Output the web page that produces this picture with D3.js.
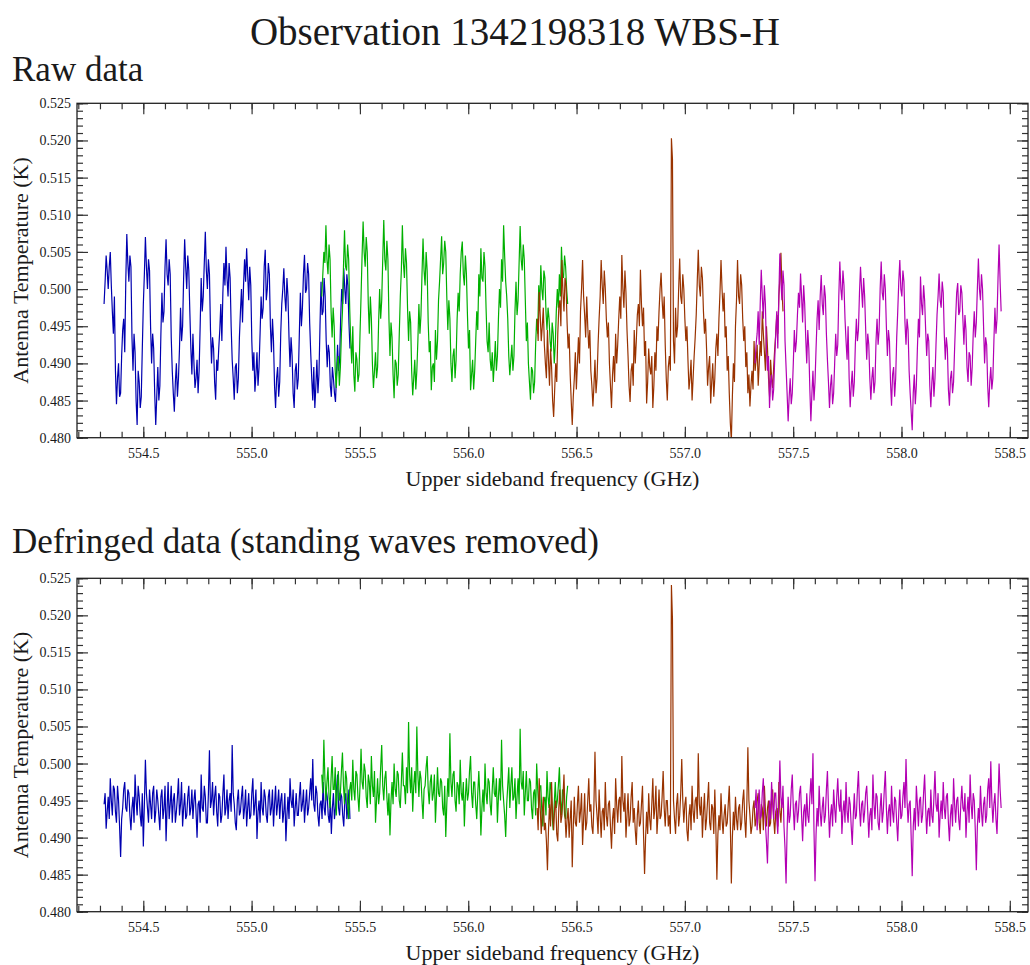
<!DOCTYPE html>
<html>
<head>
<meta charset="utf-8">
<style>
  body { margin: 0; background: #fff; }
  svg text { font-family: "Liberation Serif", Tinos, "Nimbus Roman", "Nimbus Roman No9 L", FreeSerif, "Times New Roman", Times, "DejaVu Serif", serif; fill: #1a1a1a; }
  .tick line { stroke: #333; stroke-width: 1.2; }
</style>
</head>
<body>
<script src="https://cdn.jsdelivr.net/npm/d3@7"></script>
<script>
// WBS-H subbands, drawn in this order (later ones end up on top)
const bandColors = ['#0000b0', '#00b000', '#993300', '#b300b3'];
const bandStart = [554.319, 555.324, 556.318, 557.324]; // GHz
const bandEnd   = [555.454, 556.459, 557.453, 558.460];

// antenna temperature in mK, channels evenly spaced across each subband
const rawBlue = [498,501,504.5,502.5,500,503,505,500.5,497,494,499,489,484.5,488,490,485.5,486,491,494.5,496,
  491.5,501,507.4,503.5,501,504.5,503,493.5,489,494,491.5,485,481.7,489,487.5,484,485.5,492,498,502,
  507,503,500,504,502.5,495,490,494,492,486,481.7,485.5,489.5,485,487,494,499.5,495.5,497,503,
  506.7,502,500.5,504,502,493.5,489,486,483.5,487.5,490,485.5,488,492,497.5,493,495,501.5,506.7,503,
  500,504.5,502.5,497,492,488.5,494,490,486.7,488,490.5,486,489,495,501.5,497,499,503.5,507.7,502.5,
  500,504,502,494.5,490,493.5,492,487.5,485.1,490.5,489,492,494.5,498,493,499.5,503.5,500.5,505.7,501.5,
  499,503.5,501.5,495,490.5,488,485.1,489.5,490,486,488,493.5,497,500,495.5,500.5,504,501,505.5,502,
  498.5,503,500.5,493,489,491.5,486.2,488.5,491.5,487,489.5,494,499,496,497.5,503,505.3,498.5,500,503.5,
  502,495,491.5,496,493,487,484,488,489.5,485.5,487.5,494,498,500,502.8,499,497,501.5,499,493.5,
  489.5,493.5,491,486,484,489,490,486.5,488,494,499.5,495,497.5,502,504.6,499.5,500,503.5,502,495.5,
  491.5,488,485,489.5,484,487,490.5,486,488.5,495,501,496.5,497,501.5,499,493,489.5,492.5,491.5,487,
  485.5,489.5,488,486,484.8,488.5,492.5,489,490.5,496,500,498,502.8,500,498,502,500.5,495.5,492];
const rawGreen = [499,502,505,503.5,508.6,504,502,506,504,497,493.5,497.5,495,489,486.7,490,491,487,489.5,494,
  497,503,507.9,503,502.5,506,504,497.5,493,490,495,488.5,486.2,491.5,490.5,487.5,488.5,494,499,504.5,
  509.1,505,503,507,505,498,494,499,496,490,486.7,489,491.5,488,489.5,495.5,500,496,498.5,504,
  509.3,504,502.5,506.5,504,496,491,495.5,493.5,488.5,485.3,490.5,490,487,488.5,494,499,502.5,508.6,503.5,
  501.5,505.5,503.5,497.5,493,497,495.5,489,485.7,488,490.5,486.5,489,493,498,494,496.5,502,506.8,502.5,
  500.5,505,502.5,495.5,491.5,493,486.4,489.5,490,487.5,494.5,490.5,493,498.5,501,504,507.1,502,503.5,506.5,
  505,499,494.5,498.5,496,490,487.5,491,492,488,490.5,496,499.5,497,502,505,506.4,502,500.5,504.5,
  502,496.5,492,494.5,486.4,488.5,490.5,486.5,489,493,497,494.5,502,499,505.5,501.5,501,505,503,497.5,
  493,491.5,495.5,490.5,489,491.5,487.5,490,493,489,491,496,500,497.5,504,501,508.6,504.5,501,499,
  496,491,488.4,490.5,492.5,489,491,497,501,496.5,498.5,503.5,508.5,504,502.5,506,504,498.5,493,495.5,
  490,487.5,485.1,489.5,489,486,487.5,492.5,496,494,500.5,497.5,503.2,500,498.5,502.5,501.5,497,494.5,497.5,
  496,493,491.6,495.5,494,490,492.5,497,500,497.5,502,499,505.7,502,501.5,504.5,503,500,498];
const rawBrown = [496,493,499.6,496.5,493,495,497.5,492.5,490,488,494.5,490.5,487,492,489.5,485,482.8,486.5,490,487.5,
  494,497.5,498.5,495,503.9,499.5,497,501.5,500.5,495.5,492,494,488.5,485,481.7,485.5,488,491.5,486.5,490,
  493.5,490,497,500,503.9,499,496.5,493.5,499,495,492,494.5,489,487,484.2,487,490.5,486,488,492.5,
  496,499,503.9,500.5,498,502.5,500,496,493.5,495.5,490,487,484,488.5,491,487.5,494,490,492.5,496,
  499,496,504.6,500,497.5,502.5,499.5,494.5,491,487,484.8,489,490,487,494.5,490,493,496.5,498,495,
  502.6,498,495,497.5,491,493,484.6,487.5,492,489.5,488.5,491,484,487,491.5,489,495,493,497,500,
  502.2,498.5,496,499,492.5,488,485,489.5,491,489,520.3,517.5,493,490,497.5,493.5,495,500,504.1,499,
  498,502,500,496,493,495,490.5,486.5,488,490.5,485,488,491,493.5,496.5,501,505.3,500.5,499,503,
  501.5,497,494,496,492,487,489.5,491,484.6,487.5,490,485.5,488,492,494,491,496,499.5,503.9,500,
  497,499.5,493.5,495,489,491,486,482,479.6,485.5,490,487.5,495,498.5,503.9,499,498,502,500.5,496,
  493,495,489.5,491.5,486,488.5,484.2,487,489,486.5,493,489,490.5,492.5,487,490,493,491,497,494,
  491.5,489,495,492,488,485.5,490.5,488,486.7,489.5,492,494,496.5,494,499,501.5,504.9,500,497];
const rawMagenta = [490,492.5,494,497,492.5,498,502.6,499,496,500.5,498,492,489,491,484,487.5,488.5,485,486.5,490.5,
  494,497,492,499,504.8,501,498.5,502.5,500.5,493,489.5,486,482.2,485.5,488,484.5,486,490,494.5,491.5,
  493,496.5,499.5,497.5,502.1,499,495.5,500.5,498,493.5,490,494.5,492,486.5,482.2,486,489,485,487.5,492,
  496,498.5,494.5,499,501.9,498,496.5,500.5,499,494,490.5,487.5,484,487,488.5,484.5,486,490,494,491,
  492.5,499,503.7,500,498.5,502.5,500.5,496,493,490.5,495,488,484.1,487,489,485.5,487.5,492.5,496,493,
  494.5,499.5,503,500,497.5,501.5,499,494.5,490.5,494,492.5,488,485.1,488,489.5,486,487.5,493,496,492.5,
  494.5,500,503.7,499.5,498.5,502,500,495,491,494.5,493,487.5,484.3,488.5,489.5,485.5,488,493.5,497,501,
  503.9,500,499,502.5,501,495.5,492.5,496,494.5,489,486,483.5,481,486,488.5,484.5,487,492,496,493.5,
  501.7,498,496.5,500.5,498.5,494.5,491,494,493,487,484.1,487.5,489.5,485.5,488,492.5,496.5,499,502.1,498.5,
  497.5,501,499.5,494,490.5,493.5,492,486.5,484.3,488,489,486,487.5,492,496,499.5,500.8,496.5,497,500.5,
  499.5,496,492.5,496.5,494.5,489.5,487.5,491.5,491,487,489.5,494,497,493.5,495.5,500,504.1,500,498.5,502,
  500,495,490,493.5,492.5,487,484.1,487.5,489.5,486.5,488,493,497.5,494,496,501.5,506,501,497];

const defBlue = [494.5,496,491.2,493.5,495.5,492.5,498,495,493,497,496.5,493.5,492,497,495,491.5,487.4,492.5,494,496.5,
  497.5,494,493.5,496.5,496,493,491,494,495.5,492,498.5,495,493,497,495.5,493,491.5,496,488.8,494.5,
  500.5,496,494,492,496.5,494.5,492.5,496,497,492,493.5,496.5,495,493,491,495.5,496.5,492.5,494,497,
  489.5,494,497.5,492.5,494.5,497,492,495,496,492,493.5,495.5,498,493,494.5,497.5,491.5,494,496,492.5,
  493,495.5,497,493,494,496.5,492.5,495,496.5,493.5,490,494.5,495,492,498.5,494,493.5,497,495.5,492,
  492,496,501.8,494,495,497.5,493,495.5,497,493.5,491.5,496,495.5,492,493,496,498.5,493,494,496.5,
  492.5,495,496,493.5,502.5,496,494.5,492,491,495,496.5,493,493.5,495.5,497,492.5,494,496.5,491.5,494,
  496,492.5,493,496,498,493,494.5,496.5,489.8,493.5,495,492,497.5,494,493,496.5,495.5,493,492,495.5,
  496.5,493,494,496.5,491.5,494.5,497,493,494.5,496.5,492.5,495,496,492,493.5,496,489.5,493,495.5,492.5,
  498,495,494,496.5,491.5,494,496,493,493,495.5,497.5,493.5,494.5,496.5,492,494.5,496.5,493,494,496,
  498,495,500.6,494.5,493.5,497,496,493,491.5,494.5,495,492.5,497.5,494,493,496.5,495.5,493,492,495,
  490.5,494,496,492.5,494,496.5,498.5,494,493,496,495.5,493,491.5,495,496,492.5,494,496.5,492.5];
const defGreen = [498.5,496,503.2,498,495,497.5,499.5,495.5,494,498,501,496.5,496.5,499.5,493,496.5,499,495,496,499,
  501.5,497,494.5,499,498,494.5,492.5,496.5,497.5,495,500.5,496.5,495,499,498.5,495.5,493.5,497,502,497.5,
  496.5,500,499,495.5,494,498.5,497.5,494.5,501,497,495.5,499,492,495,498,494.5,496,499.5,502.5,497,
  495,498,499,495.5,493,496,490.3,495,497.5,494.5,500,496.5,495.5,499,498.5,495,494,497.5,501.5,497,
  497,494.5,499.5,496,505.6,498.5,496,499.5,493.5,497,499,496,505,498.5,495.5,499,498,495,492.5,496.5,
  497,499.5,501,496.5,494.5,497.5,498.5,495,496,498.5,492,495.5,499.5,496,495.5,498,497.5,494,493,497,
  490.1,494.5,498,495.5,504.1,497.5,495.5,498.5,499,495,493.5,497.5,497,494.5,500.5,496,495,497.5,491.5,495.5,
  498,495,496,499,501,496,494,497.5,497.5,494.5,492.5,496,499,495.5,490.3,494,496.5,493.5,500,496,
  494.5,498,497.5,494.5,493,496.5,499.5,496,495.5,498,492,495.5,498,495,503.2,497,495,493,490.1,494.5,
  497,499.5,494,497,499.5,495,495.5,498,492.5,495.5,498,494.5,504.7,497.5,496.5,499,493,496,499,495,
  495,498,497.5,494,492.5,496,496.5,493,500,496.5,494,497,497,493.5,491.5,495,495.5,493,499,495.5,
  494,497.5,496.5,493,491,494.5,497.5,494,495,497,499.5,495,493,496.5,496,493,492.5,495.5,497];
const defBrown = [494,491,498,494,490.5,493.5,495.5,491,492,489.5,485.6,491,494.5,491.5,497.5,493,491,494,495,490.5,
  489.5,494,496.5,492,493,495.5,498.5,493,490,492.5,494,490,492.5,495,486,491.5,495.5,492,491.5,494.5,
  497,492,493.5,496,489,492.5,496,491,492,495,498,493.5,494.5,491.5,490.5,494.5,501.6,495,493,490.5,
  496.5,493,490,493.5,494,491,497.5,493,491.5,494.5,495,491.5,488.5,492.5,494,490.5,498,494.5,492,495,
  495.5,492,501,495,493.5,496,490,493,496,491.5,492.5,495.5,497.5,492,494,491,489,493,495,491.5,
  492,494.5,497,490.5,485.1,490,493.5,490.5,496,492.5,491,494.5,498,492.5,494,497,490.5,493,496.5,492.5,
  493,495.5,499,494,491.5,495,495,491.5,493,490.5,524.1,519.5,495,492.5,490.5,494.5,496,491.5,493,496,
  500.6,495,492,494.5,495.5,491,489.5,493,494.5,491,497,493.5,492,495,495.5,492.5,501.4,494.5,493,495.5,
  490,493.5,496,491,492.5,495,497.5,492,491,494.5,494,490.5,496.5,491.5,484.3,490.5,493,491,496,492.5,
  490.5,493,494.5,491.5,492,494.5,497,492,483.8,490,493.5,491,495.5,492.5,491,494,494.5,491,492,495,
  496.5,492.5,490,494.5,502.2,495,493,490.5,491.5,494,495,491.5,492.5,495,496,492,490.5,494.5,494,491,
  497,493.5,491.5,494,495,491.5,492,495.5,496.5,492.5,490.5,493.5,494,491.5,497.5,493.5,492,495,494.5];
const defMagenta = [494,496.5,491,494,496.5,492.5,493,496,498,494,492,489.5,486.5,492,495,492.5,497.5,494.5,492.5,496,
  496,492.5,490.5,495,500.4,495.5,494,497,491.5,488.5,483.8,491,495.5,492,493,496.5,498.5,494,491,494.5,
  495,492,493.5,496,497,493,489.5,493.5,494.5,491.5,496,493,492,495.5,498,494.5,501.4,491,484.1,490.5,
  494,491.5,497,493.5,491.5,494,495.5,492,493,496.5,499,494,490,493,494.5,491.5,496.5,494,492,495.5,
  498,494.5,493.5,496.5,490.5,493.5,495,492,497.5,493.5,492,495.5,494.5,491.5,489,493,496,492.5,493,496.5,
  499,494,491.5,494.5,495,492,493.5,496,497,493.5,490,493,494,491,498.5,494.5,492.5,496,495.5,492,
  491,494,496,492,493.5,496.5,499,494,490.5,493.5,494.5,491.5,497,493.5,492,495.5,495,492,489.5,493.5,
  496.5,492.5,493,495.5,497.5,494,500.6,495,492,494.5,495,490,484.8,491.5,494,491,497,494.5,491.5,495,
  495.5,492,493,496,498.5,494,490.5,493.5,494,491.5,496.5,493,492,495.5,499,494.5,493.5,496,490,493,
  495,492.5,497.5,494,492.5,495.5,496,492,489.5,493,494.5,491.5,498,494.5,492,495,495.5,492.5,491,494.5,
  497,494,493.5,496,490,493.5,495.5,492,498.5,494.5,492.5,496,495,491,485.6,491.5,494,492,497,493.5,
  491.5,494.5,495.5,492,493,496.5,498,494,500.3,495,492,494.5,496,492.5,490.5,495,500,496.5,494];

const rawBands = [rawBlue, rawGreen, rawBrown, rawMagenta];
const defBands = [defBlue, defGreen, defBrown, defMagenta];

const xMajor = [554.5, 555.0, 555.5, 556.0, 556.5, 557.0, 557.5, 558.0, 558.5];
const yMajor = [0.480, 0.485, 0.490, 0.495, 0.500, 0.505, 0.510, 0.515, 0.520, 0.525];
const xMinor = d3.range(554.2, 558.55, 0.1);
const yMinor = d3.range(0.480, 0.5255, 0.001);

const width = 1030, height = 965;
const left = 77, right = 1028;

const svg = d3.select('body').append('svg')
  .attr('width', width)
  .attr('height', height);

const x = d3.scaleLinear().domain([554.194, 558.584]).range([left, right]);

svg.append('text')
  .attr('x', 515).attr('y', 45)
  .attr('text-anchor', 'middle')
  .style('font-size', '39px')
  .text('Observation 1342198318 WBS-H');

function drawPanel(top, bottom, bands, label, labelY, id) {
  const y = d3.scaleLinear().domain([0.480, 0.525]).range([bottom, top]);
  const g = svg.append('g');

  svg.append('text')
    .attr('x', 12).attr('y', labelY)
    .style('font-size', '35px')
    .text(label);

  g.append('clipPath').attr('id', id)
    .append('rect')
    .attr('x', left).attr('y', top)
    .attr('width', right - left).attr('height', bottom - top);

  const line = d3.line().x(d => x(d[0])).y(d => y(d[1]));

  bands.forEach((vals, b) => {
    const step = (bandEnd[b] - bandStart[b]) / (vals.length - 1);
    const pts = vals.map((v, i) => [bandStart[b] + i * step, v / 1000]);
    g.append('path')
      .datum(pts)
      .attr('clip-path', `url(#${id})`)
      .attr('fill', 'none')
      .attr('stroke', bandColors[b])
      .attr('stroke-width', 1.2)
      .attr('d', line);
  });

  // ticks point inwards on all four sides
  const axes = [
    [d3.axisBottom(x), `translate(0,${bottom})`, xMinor, xMajor, d3.format('.1f')],
    [d3.axisTop(x), `translate(0,${top})`, xMinor, xMajor, null],
    [d3.axisLeft(y), `translate(${left},0)`, yMinor, yMajor, d3.format('.3f')],
    [d3.axisRight(y), `translate(${right},0)`, yMinor, yMajor, null]
  ];
  axes.forEach(([ax, tr, minor, major, fmt]) => {
    g.append('g').attr('transform', tr)
      .call(ax.tickValues(minor).tickSizeInner(-6).tickSizeOuter(0).tickFormat(''))
      .call(s => s.select('.domain').remove());
    const isX = major === xMajor;
    g.append('g').attr('transform', tr)
      .attr('font-family', null)
      .call(ax.tickValues(major).tickSizeInner(-11).tickSizeOuter(0)
        .tickPadding(isX ? 10.5 : 6).tickFormat(fmt || ''))
      .call(s => s.select('.domain').remove())
      .call(s => s.selectAll('text')
        .style('font-size', '14px')
        .attr('fill', '#1a1a1a'));
  });

  g.append('rect')
    .attr('x', left).attr('y', top)
    .attr('width', right - left).attr('height', bottom - top)
    .attr('fill', 'none')
    .attr('stroke', '#222')
    .attr('stroke-width', 1.3);

  g.append('text')
    .attr('x', (left + right) / 2).attr('y', bottom + 48.5)
    .attr('text-anchor', 'middle')
    .style('font-size', '22px')
    .text('Upper sideband frequency (GHz)');

  g.append('text')
    .attr('transform', `translate(28,${(top + bottom) / 2}) rotate(-90)`)
    .attr('text-anchor', 'middle')
    .style('font-size', '22px')
    .text('Antenna Temperature (K)');
}

drawPanel(103.3, 437.7, rawBands, 'Raw data', 81, 'clipRaw');
drawPanel(578.3, 911.7, defBands, 'Defringed data (standing waves removed)', 553, 'clipDef');
</script>
</body>
</html>
